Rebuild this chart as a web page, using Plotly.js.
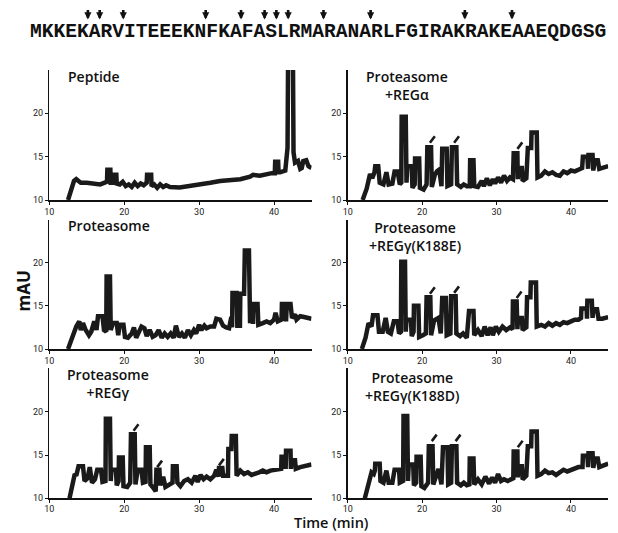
<!DOCTYPE html>
<html><head><meta charset="utf-8">
<script src="https://cdn.plot.ly/plotly-3.0.1.min.js"></script>
<style>html,body{margin:0;padding:0;background:#fff}#chart{width:618px;height:533px}</style>
</head><body><div id="chart"></div>
<script>
// ---------------- DATA ----------------
const sequence = "MKKEKARVITEEEKNFKAFASLRMARANARLFGIRAKRAKEAAEQDGSG";
// residue index that follows each cleavage arrow
const cleavageSites = [5, 6, 8, 15, 18, 20, 21, 22, 25, 29, 37, 41];

const panelTitles = [
  ["Peptide"],
  ["Proteasome", "+REGα"],
  ["Proteasome"],
  ["Proteasome", "+REGγ(K188E)"],
  ["Proteasome", "+REGγ"],
  ["Proteasome", "+REGγ(K188D)"]
];
const xTicks = [10, 20, 30, 40];
const yTicks = [10, 15, 20];
const xLabel = "Time (min)";
const yLabel = "mAU";

// Peptide
const peptideX = [12.5,12.9,13.3,13.6,14.2,15,16,16.8,17.4,17.7,17.75,18.15,18.2,18.5,18.55,18.95,19.0,19.4,19.8,20.2,20.6,21.0,21.4,21.8,22.2,22.6,23.0,23.05,23.6,23.65,24.0,24.4,24.8,25.2,25.6,26.1,27.4,28.8,30,31.5,32.8,34.6,35.5,36.8,37.2,38.1,39,39.7,40.1,40.15,40.55,40.6,40.8,41.5,41.8,41.9,42.5,42.6,42.8,43.2,43.5,43.7,43.9,44.3,44.6,45];
const peptideY = [10.0,11.0,12.2,12.4,12.0,12.0,11.9,11.8,12.0,12.1,13.5,13.5,12.0,12.0,12.9,12.9,11.9,11.8,12.1,11.6,11.8,11.5,12.0,11.6,11.9,11.7,12.0,12.9,12.9,11.6,11.8,11.4,11.8,11.5,11.7,11.5,11.45,11.6,11.8,12.0,12.2,12.3,12.4,12.7,12.9,12.8,13.0,13.1,13.1,14.4,14.4,13.2,13.2,13.4,16,30,30,15.5,14.3,14.5,13.6,13.7,14.5,14.6,13.9,13.7];

// Proteasome + REG alpha
const regAX = [12.0,12.55,13.0,13.3,13.6,13.7,14.1,14.3,14.8,15.2,15.5,16.0,16.3,16.7,17.0,17.2,17.25,17.8,17.9,18.0,18.6,18.7,19.0,19.05,19.6,19.7,20.2,20.6,20.7,21.2,21.3,21.7,22.0,22.3,22.6,22.7,23.3,23.4,23.9,24.0,24.6,24.7,25.2,25.6,26.0,26.4,26.45,26.9,27.0,27.5,28.0,28.3,28.7,29.1,29.5,29.8,30.2,30.6,31.0,31.4,31.8,32.2,32.3,32.8,32.85,32.9,33.4,33.5,34.0,34.2,34.65,34.7,35.4,35.5,36.0,36.5,37.0,37.5,38.0,38.5,39.0,39.5,40.0,40.5,41.0,41.5,41.6,42.2,42.3,42.35,42.9,43.0,43.2,43.6,43.8,44.4,45.0];
const regAY = [10,11.3,13.0,12.5,13.2,13.9,13.9,12.0,11.8,13.2,11.8,11.9,13.3,13.3,11.8,12.0,19.6,19.6,12.0,13.9,13.9,11.4,11.8,14.8,14.8,11.4,11.2,11.8,16.1,16.1,11.5,12.9,13.3,13.5,11.6,15.9,15.9,11.6,11.8,16.1,16.1,11.8,11.5,11.8,11.6,11.6,14.6,14.6,11.6,11.5,12.2,11.6,12.5,11.7,12.4,11.9,12.6,12.0,12.8,12.2,12.6,12.4,15.4,15.4,12.4,13.7,13.7,12.2,12.5,16.0,16.0,17.8,17.8,12.6,12.8,13.3,13.0,13.2,12.9,12.8,13.3,13.1,13.4,13.3,13.5,13.7,15.0,15.0,13.6,15.2,15.2,13.4,14.6,14.6,13.6,13.8,13.9];
const regAMarkX = [21.05, 24.3, 32.8];
const regAMarkY = [16.6, 16.6, 15.9];

// Proteasome
const protX = [12.5,13.0,13.6,14.0,14.2,14.5,14.8,15.3,15.6,16.0,16.3,16.5,17.1,17.3,17.6,17.65,18.1,18.2,18.5,19.0,19.2,19.4,19.9,20.1,20.5,21.0,21.3,21.6,22.0,22.3,22.7,23.0,23.4,23.8,24.2,24.6,25.0,25.4,25.8,26.2,26.6,26.9,27.3,27.7,28.1,28.5,28.9,29.3,29.6,30.0,30.3,30.7,31.0,31.5,32.0,32.3,32.8,33.2,33.6,34.0,34.3,34.4,34.45,35.0,35.1,35.45,35.5,36.0,36.1,36.65,36.8,37.0,37.15,37.2,37.25,37.8,37.9,38.5,39.0,39.5,40.0,40.2,40.5,41.0,41.05,41.5,41.6,41.7,42.2,42.4,42.8,43.0,43.5,44.0,44.5,45.0];
const protY = [10,11.3,12.6,13.2,12.2,13.0,12.3,11.6,12.0,13.2,12.2,13.8,13.8,12.2,12.0,18.4,18.4,12.2,13.0,13.0,11.6,12.8,12.8,11.4,11.3,11.8,12.5,11.3,11.9,12.6,12.4,11.5,12.2,11.4,11.6,12.2,11.3,11.8,11.4,11.8,11.3,12.7,11.4,11.8,11.3,12.2,11.6,12.2,11.8,12.8,12.2,12.7,12.4,12.6,12.6,13.5,13.4,12.7,12.5,12.4,13.7,12.5,16.5,16.5,12.7,12.7,16.4,16.4,21.4,21.4,13.0,14.9,14.9,12.9,15.2,15.2,12.8,13.0,13.2,13.0,13.4,14.2,13.2,13.4,15.2,15.2,13.2,15.2,15.2,13.6,14.0,13.4,13.8,13.7,13.6,13.5];

// Proteasome + REG gamma (K188E)
const k188eX = [11.9,12.4,12.8,13.2,13.4,14.0,14.2,14.7,15.1,15.4,15.8,16.2,16.7,16.9,17.15,17.2,17.7,17.8,17.9,18.5,18.6,18.85,18.9,19.5,19.6,20.1,20.5,20.6,21.1,21.2,21.6,22.2,22.5,22.7,23.2,23.3,23.8,23.9,24.5,24.6,25.1,25.5,26.0,26.3,26.9,27.0,27.5,28.0,28.4,28.8,29.2,29.5,29.9,30.3,30.8,31.3,31.8,32.15,32.2,32.7,32.8,32.9,33.4,33.5,34.0,34.1,34.55,34.6,35.3,35.4,36.0,36.5,37.0,37.5,38.0,38.5,39.0,39.5,40.0,40.5,41.0,41.35,41.4,42.1,42.15,42.2,42.8,42.9,43.0,43.5,43.7,44.2,44.6,45.0];
const k188eY = [10,11.3,13.0,12.6,13.9,13.9,12.0,12.0,13.6,12.0,11.8,13.2,13.2,11.8,12.0,20.1,20.1,12.0,13.4,13.4,11.5,12.0,15.0,15.0,11.4,11.6,11.8,16.0,16.0,11.6,13.3,13.6,11.8,15.9,15.9,11.6,11.8,16.1,16.1,11.8,11.5,11.8,11.3,14.4,14.4,11.6,12.2,11.5,12.6,11.6,12.5,11.6,12.6,12.0,12.6,12.2,12.5,12.3,15.5,15.5,12.3,13.6,13.6,12.2,12.5,16.0,16.0,17.7,17.7,12.6,12.8,12.6,13.0,12.7,13.0,12.8,13.1,13.0,13.2,13.4,13.4,13.6,14.7,14.7,13.5,15.6,15.6,13.6,14.6,14.6,13.5,13.5,13.6,13.7];
const k188eMarkX = [21.05, 24.3, 32.7];
const k188eMarkY = [16.4, 16.5, 15.9];

// Proteasome + REG gamma
const regGX = [12.7,13.1,13.4,13.6,13.85,13.9,14.5,14.7,15.1,15.4,15.7,16.1,16.4,16.9,17.1,17.5,17.55,18.1,18.2,18.3,18.9,19.0,19.25,19.3,19.8,19.9,20.4,20.8,20.9,21.4,21.5,21.8,22.3,22.5,22.85,22.9,23.4,23.5,23.9,24.2,24.3,24.7,24.8,25.2,25.5,26.0,26.45,26.5,27.0,27.1,27.5,28.0,28.5,29.0,29.5,29.8,30.2,30.6,31.0,31.5,32.0,32.3,32.6,32.65,33.1,33.2,33.85,33.9,34.3,34.35,34.9,35.0,35.5,36.0,36.5,37.0,37.5,38.0,38.5,39.0,39.5,40.0,40.5,40.95,41.0,41.5,41.55,41.6,42.2,42.25,42.3,42.8,42.9,43.5,44.0,44.5,45.0];
const regGY = [10,11.5,12.8,12.6,13.2,13.7,13.7,12.0,12.3,13.6,11.8,12.2,13.3,13.3,11.9,12.0,19.2,19.2,12.0,13.3,13.3,11.5,12.0,14.7,14.7,11.4,11.3,11.8,17.4,17.4,11.6,13.3,13.3,11.8,11.9,15.9,15.9,11.6,11.2,10.8,13.3,13.3,11.5,12.5,11.3,11.6,11.8,13.7,13.7,11.8,11.4,12.0,12.2,11.8,12.6,11.9,12.7,12.2,12.5,12.2,12.6,13.3,12.5,13.5,13.5,12.6,12.6,15.7,15.7,17.2,17.2,12.6,13.2,12.8,13.0,12.7,12.8,13.0,13.2,13.0,13.2,13.3,13.3,13.4,14.8,14.8,13.4,15.5,15.5,13.4,14.4,14.4,13.4,13.6,13.7,13.7,13.9];
const regGMarkX = [21.25, 24.4, 32.65];
const regGMarkY = [17.8, 13.6, 13.8];

// Proteasome + REG gamma (K188D)
const k188dX = [12.3,12.8,13.2,13.5,13.65,13.7,14.3,14.4,14.8,15.2,15.5,16.0,16.3,16.9,17.0,17.45,17.5,18.0,18.1,18.2,18.8,18.9,19.2,19.25,19.8,19.9,20.3,20.8,20.9,21.4,21.5,21.9,22.2,22.6,22.8,23.4,23.5,23.9,24.0,24.6,24.7,25.2,25.6,26.0,26.35,26.4,26.9,27.0,27.5,28.0,28.5,29.0,29.4,29.8,30.2,30.6,31.0,31.5,32.0,32.25,32.3,32.8,32.85,32.9,33.4,33.5,34.0,34.2,34.65,34.7,35.4,35.5,36.0,36.5,37.0,37.5,38.0,38.5,39.0,39.5,40.0,40.5,41.0,41.55,41.6,42.2,42.3,42.35,42.9,43.0,43.2,43.6,43.8,44.4,45.0];
const k188dY = [10,11.5,13.0,12.8,13.2,14.0,14.0,12.0,11.8,13.2,11.8,11.8,13.3,13.3,11.8,12.0,19.5,19.5,12.0,13.9,13.9,11.5,11.8,14.8,14.8,11.4,11.2,11.8,16.0,16.0,11.6,12.8,13.4,11.6,15.9,15.9,11.6,11.8,16.0,16.0,11.8,11.5,11.8,11.5,11.6,14.6,14.6,11.6,12.2,11.6,12.5,11.7,12.4,11.8,12.8,12.0,12.2,12.0,12.3,12.3,15.4,15.4,12.4,13.7,13.7,12.2,12.6,16.0,16.0,17.7,17.7,12.6,12.8,13.2,12.9,13.0,12.7,13.0,13.3,13.1,13.3,13.4,13.6,13.6,14.9,14.9,13.6,15.2,15.2,13.5,14.6,14.6,13.6,13.8,14.0];
const k188dMarkX = [21.3, 24.5, 32.85];
const k188dMarkY = [16.6, 16.6, 15.9];

// ---------------- LAYOUT ----------------
const W = 618, H = 533;
const px = v => v / W;
const py = v => 1 - v / H;

const colX = [[49.3, 311.5], [347.7, 608.2]];
const rowY = [[200, 70], [349, 219.5], [498.3, 368.4]];

const series = [
  {x: peptideX, y: peptideY, mx: [], my: []},
  {x: regAX, y: regAY, mx: regAMarkX, my: regAMarkY},
  {x: protX, y: protY, mx: [], my: []},
  {x: k188eX, y: k188eY, mx: k188eMarkX, my: k188eMarkY},
  {x: regGX, y: regGY, mx: regGMarkX, my: regGMarkY},
  {x: k188dX, y: k188dY, mx: k188dMarkX, my: k188dMarkY}
];

const tickFont = {family: "Liberation Sans Narrow, Roboto, Arial, sans-serif", size: 9, color: "#222"};
const titleFont = {family: "Open Sans, Noto Sans, sans-serif", size: 14, color: "#111", weight: 600};

const layout = {
  width: W, height: H,
  margin: {l: 0, r: 0, t: 0, b: 0},
  paper_bgcolor: "#fff", plot_bgcolor: "#fff",
  showlegend: false,
  annotations: [],
  font: {family: "Open Sans, sans-serif"}
};
const traces = [];

// title block centre (x, y of first line centre) in pixels
const titlePos = [
  [94, 77],
  [407, 76],
  [109, 226],
  [415, 227],
  [108, 374],
  [412, 377]
];

series.forEach((s, i) => {
  const n = i + 1;
  const col = i % 2, row = Math.floor(i / 2);
  const xa = "xaxis" + (n === 1 ? "" : n), ya = "yaxis" + (n === 1 ? "" : n);
  const xr = "x" + (n === 1 ? "" : n), yr = "y" + (n === 1 ? "" : n);
  layout[xa] = {
    domain: [px(colX[col][0]), px(colX[col][1])], anchor: yr,
    range: [10, 45], showgrid: false, zeroline: false,
    showline: true, linecolor: "#111", linewidth: 1.5,
    ticks: "outside", ticklen: 3, tickwidth: 1, tickcolor: "#111",
    tickvals: xTicks, ticktext: xTicks.map(String), tickfont: tickFont, fixedrange: true,
    ticklabelstandoff: row === 2 ? -2 : 0
  };
  layout[ya] = {
    domain: [py(rowY[row][0]), py(rowY[row][1])], anchor: xr,
    range: [10, 25], showgrid: false, zeroline: false,
    showline: true, linecolor: "#111", linewidth: 1.5,
    ticks: "outside", ticklen: 3, tickwidth: 1, tickcolor: "#111",
    tickvals: yTicks, ticktext: yTicks.map(String), tickfont: tickFont, fixedrange: true
  };
  traces.push({
    type: "scatter", mode: "lines", x: s.x, y: s.y, xaxis: xr, yaxis: yr,
    line: {color: "#1a1a1a", width: 4.5, shape: "linear"}, hoverinfo: "skip"
  });
  s.mx.forEach((mx, k) => {
    layout.annotations.push({
      xref: xr, yref: yr, x: mx, y: s.my[k], text: "",
      showarrow: true, arrowhead: 0, arrowwidth: 2.6, arrowcolor: "#1a1a1a",
      axref: "pixel", ayref: "pixel", ax: 6, ay: -8, standoff: 0, startstandoff: 0
    });
  });
  const lines = panelTitles[i];
  const lh = 14 * 1.3;
  const p = titlePos[i];
  layout.annotations.push({
    xref: "paper", yref: "paper", x: px(p[0]), y: py(p[1] + (lines.length - 1) * lh / 2),
    xanchor: "center", yanchor: "middle", align: "center", borderpad: 0,
    text: lines.join("<br>"), showarrow: false, font: titleFont
  });
});

// sequence and cleavage arrows
const seqLeft = 29, charW = 11.78;
layout.annotations.push({
  xref: "paper", yref: "paper", x: px(seqLeft + charW * sequence.length / 2), y: py(32),
  xanchor: "center", yanchor: "middle", text: sequence, showarrow: false, borderpad: 0,
  font: {family: "Liberation Mono, DejaVu Sans Mono, monospace", size: 19.6, color: "#111", weight: 700}
});
cleavageSites.forEach(idx => {
  layout.annotations.push({
    xref: "paper", yref: "paper", x: px(seqLeft + charW * idx), y: py(19.5), text: "",
    showarrow: true, arrowhead: 2, arrowsize: 0.55, arrowwidth: 2.6, arrowcolor: "#111",
    axref: "pixel", ayref: "pixel", ax: 0, ay: -11, standoff: 0
  });
});

// axis labels
layout.annotations.push({
  xref: "paper", yref: "paper", x: px(22.5), y: py(291), textangle: -90,
  xanchor: "center", yanchor: "middle", text: yLabel, showarrow: false, borderpad: 0,
  font: {family: "Open Sans, sans-serif", size: 17, color: "#111", weight: 700}
});
layout.annotations.push({
  xref: "paper", yref: "paper", x: px(331.5), y: 0,
  xanchor: "center", yanchor: "bottom", text: xLabel, showarrow: false, borderpad: 0,
  font: {family: "Open Sans, sans-serif", size: 14.5, color: "#111", weight: 600}
});

Plotly.newPlot("chart", traces, layout, {staticPlot: true, displayModeBar: false});
</script>
</body></html>
